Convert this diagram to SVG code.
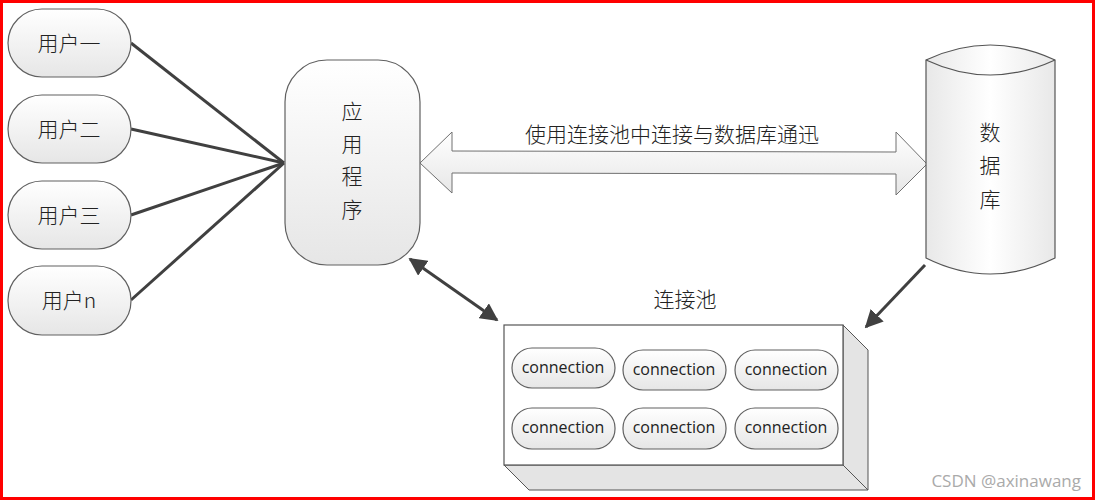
<svg xmlns="http://www.w3.org/2000/svg" width="1095" height="500" viewBox="0 0 1095 500">
<defs>
<linearGradient id="g" x1="0" y1="0" x2="0" y2="1"><stop offset="0" stop-color="#ffffff"/><stop offset="1" stop-color="#e6e6e6"/></linearGradient>
<linearGradient id="gh" x1="0" y1="0" x2="1" y2="0"><stop offset="0" stop-color="#e8e8e8"/><stop offset="0.5" stop-color="#ffffff"/><stop offset="1" stop-color="#e8e8e8"/></linearGradient>
<marker id="ah" viewBox="0 0 10 10" refX="9" refY="5" markerWidth="6" markerHeight="6" orient="auto-start-reverse"><path d="M0,0 L10,5 L0,10 z" fill="#404040"/></marker>
</defs>
<style>
.n{fill:url(#g);stroke:#606060;stroke-width:1.2}
.t{font-family:"Noto Sans CJK SC","Liberation Sans",sans-serif;font-weight:300;fill:#222;text-anchor:middle}
.c{font-family:"Open Sans","Liberation Sans",sans-serif;font-size:16px;fill:#222;text-anchor:middle}
.l{stroke:#404040;stroke-width:3;fill:none}
</style>
<rect x="0" y="0" width="1095" height="500" fill="#fff"/>
<rect x="1.5" y="1.5" width="1092" height="497" fill="none" stroke="#ff0000" stroke-width="3"/>
<g id="connectors">
<line class="l" x1="131" y1="43" x2="284" y2="163"/>
<line class="l" x1="131" y1="129" x2="284" y2="163"/>
<line class="l" x1="131" y1="215" x2="284" y2="163"/>
<line class="l" x1="131" y1="300" x2="284" y2="163"/>
<line class="l" x1="410" y1="259" x2="497" y2="320" marker-start="url(#ah)" marker-end="url(#ah)"/>
<line class="l" x1="925" y1="265" x2="866" y2="327" marker-end="url(#ah)"/>
</g>
<g id="u1"><rect class="n" x="8" y="9" width="123" height="68" rx="34"/><text class="t" x="69" y="51" font-size="21">用户一</text></g>
<g id="u2"><rect class="n" x="8" y="95" width="123" height="68" rx="34"/><text class="t" x="69" y="137" font-size="21">用户二</text></g>
<g id="u3"><rect class="n" x="8" y="181" width="123" height="68" rx="34"/><text class="t" x="69" y="223" font-size="21">用户三</text></g>
<g id="un"><rect class="n" x="8" y="266" width="123" height="69" rx="34"/><text class="t" x="69" y="308" font-size="21">用户n</text></g>
<g id="app"><rect class="n" x="285" y="60" width="135" height="205" rx="42"/>
<text class="t" x="352" y="119" font-size="21">应</text><text class="t" x="352" y="152" font-size="21">用</text><text class="t" x="352" y="184" font-size="21">程</text><text class="t" x="352" y="217" font-size="21">序</text></g>
<g id="comm"><path d="M420,163 L452,132 L452,151 L896,152 L896,132 L927,164 L896,195 L896,174 L452,173 L452,193 Z" fill="url(#g)" stroke="#707070" stroke-width="1"/>
<text class="t" x="672" y="142" font-size="21">使用连接池中连接与数据库通迅</text></g>
<g id="db"><path d="M926,60 Q990,30 1055,60 L1055,258 Q990,290 926,258 Z" fill="url(#gh)" stroke="#555" stroke-width="1.2"/>
<path d="M926,60 Q990,90 1055,60" fill="none" stroke="#555" stroke-width="1.2"/>
<text class="t" x="990" y="140" font-size="21">数</text><text class="t" x="990" y="173" font-size="21">据</text><text class="t" x="990" y="207" font-size="21">库</text></g>
<g id="pool">
<text class="t" x="685" y="307" font-size="21">连接池</text>
<path d="M843,325 L868,350 L868,490 L843,465 Z" fill="#e4e4e4" stroke="#555"/>
<path d="M504,465 L843,465 L868,490 L529,490 Z" fill="#e4e4e4" stroke="#555"/>
<rect x="504" y="325" width="339" height="140" fill="#fff" stroke="#555" stroke-width="1.2"/>
<rect class="n" x="512" y="348" width="103" height="40" rx="20"/><text class="c" x="563" y="373">connection</text>
<rect class="n" x="623" y="350" width="103" height="40" rx="20"/><text class="c" x="674" y="375">connection</text>
<rect class="n" x="735" y="350" width="103" height="40" rx="20"/><text class="c" x="786" y="375">connection</text>
<rect class="n" x="512" y="408" width="103" height="41" rx="20"/><text class="c" x="563" y="433">connection</text>
<rect class="n" x="623" y="408" width="103" height="41" rx="20"/><text class="c" x="674" y="433">connection</text>
<rect class="n" x="735" y="408" width="103" height="41" rx="20"/><text class="c" x="786" y="433">connection</text>
</g>
<text x="1081" y="487" font-family="Open Sans,Liberation Sans,sans-serif" font-size="17" fill="#aaa" text-anchor="end">CSDN @axinawang</text>
</svg>
